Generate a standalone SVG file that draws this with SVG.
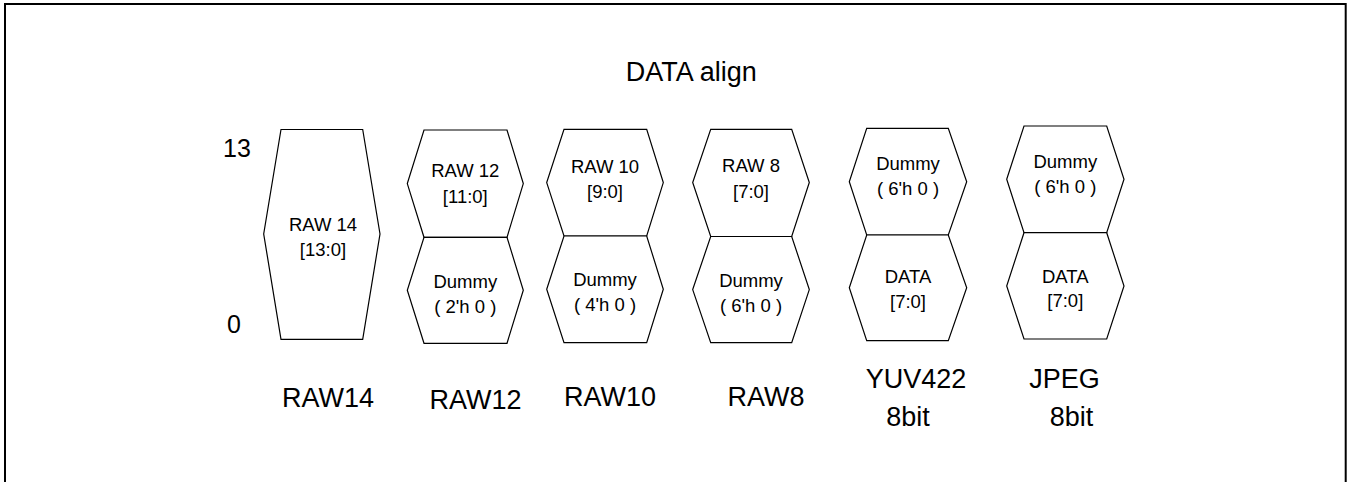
<svg xmlns="http://www.w3.org/2000/svg" width="1354" height="482" viewBox="0 0 1354 482">
<style>
.hex{fill:#fff;stroke:#000;stroke-width:1.2;stroke-linejoin:miter}
.t{font-family:"Liberation Sans",Arial,sans-serif;font-size:18.5px;fill:#000;text-anchor:middle}
.lbl{font-family:"Liberation Sans",Arial,sans-serif;font-size:27px;fill:#000;text-anchor:middle}
.ax{font-family:"Liberation Sans",Arial,sans-serif;font-size:25px;fill:#000}
</style>
<rect x="5" y="4" width="1340.7" height="495" fill="#fff" stroke="#000" stroke-width="2"/>
<text class="lbl" x="691.3" y="81">DATA align</text>
<g id="axis">
<text class="ax" x="223" y="157">13</text>
<text class="ax" x="227" y="333">0</text>
</g>
<g id="raw14">
<polygon class="hex" points="281,129.5 362.7,129.5 380,234 362.7,339.3 281,339.3 263.7,234"/>
<text class="t" x="323" y="231">RAW 14</text>
<text class="t" x="323" y="256">[13:0]</text>
<text class="lbl" x="328" y="406.5">RAW14</text>
</g>
<g id="raw12">
<polygon class="hex" points="424,130 507,130 523.3,183.6 507,237.3 424,237.3 407.3,183.6"/>
<polygon class="hex" points="424,237.3 507,237.3 523.3,290.3 507,343.3 424,343.3 407.3,290.3"/>
<text class="t" x="465.3" y="177.3">RAW 12</text>
<text class="t" x="465.3" y="202.7">[11:0]</text>
<text class="t" x="465.3" y="288.3">Dummy</text>
<text class="t" x="465.3" y="313">( 2'h 0 )</text>
<text class="lbl" x="475.6" y="409">RAW12</text>
</g>
<g id="raw10">
<polygon class="hex" points="564,129.3 646.7,129.3 663.3,182.6 646.7,236 564,236 546.7,182.6"/>
<polygon class="hex" points="564,236 646.7,236 663.3,289.3 646.7,342.7 564,342.7 546.7,289.3"/>
<text class="t" x="605" y="173">RAW 10</text>
<text class="t" x="605" y="198.3">[9:0]</text>
<text class="t" x="605" y="286">Dummy</text>
<text class="t" x="605" y="310.5">( 4'h 0 )</text>
<text class="lbl" x="610" y="405.7">RAW10</text>
</g>
<g id="raw8">
<polygon class="hex" points="710.7,129.3 791.7,129.3 809.3,182.5 791.7,236.5 710.7,236.5 692.7,182.5"/>
<polygon class="hex" points="710.7,236.5 791.7,236.5 809.3,289.6 791.7,342.7 710.7,342.7 692.7,289.6"/>
<text class="t" x="751" y="172">RAW 8</text>
<text class="t" x="751" y="198">[7:0]</text>
<text class="t" x="751" y="286.7">Dummy</text>
<text class="t" x="751" y="311.7">( 6'h 0 )</text>
<text class="lbl" x="766" y="406">RAW8</text>
</g>
<g id="yuv422">
<polygon class="hex" points="866.7,128.3 948.3,128.3 966.7,181.7 948.3,235 866.7,235 849.3,181.7"/>
<polygon class="hex" points="866.7,235 948.3,235 966.7,287.8 948.3,340.7 866.7,340.7 849.3,287.8"/>
<text class="t" x="908" y="170">Dummy</text>
<text class="t" x="908" y="195">( 6'h 0 )</text>
<text class="t" x="908" y="283.3">DATA</text>
<text class="t" x="908" y="308.3">[7:0]</text>
<text class="lbl" x="916" y="388">YUV422</text>
<text class="lbl" x="908" y="426">8bit</text>
</g>
<g id="jpeg">
<polygon class="hex" points="1024,126 1106.7,126 1124,179.3 1106.7,232.7 1024,232.7 1006.7,179.3"/>
<polygon class="hex" points="1024,232.7 1106.7,232.7 1124,286 1106.7,339 1024,339 1006.7,286"/>
<text class="t" x="1065.3" y="168.3">Dummy</text>
<text class="t" x="1065.3" y="193.3">( 6'h 0 )</text>
<text class="t" x="1065.3" y="282.7">DATA</text>
<text class="t" x="1065.3" y="306.7">[7:0]</text>
<text class="lbl" x="1064.6" y="388">JPEG</text>
<text class="lbl" x="1071.5" y="426">8bit</text>
</g>
<g id="connectors"></g>
</svg>
